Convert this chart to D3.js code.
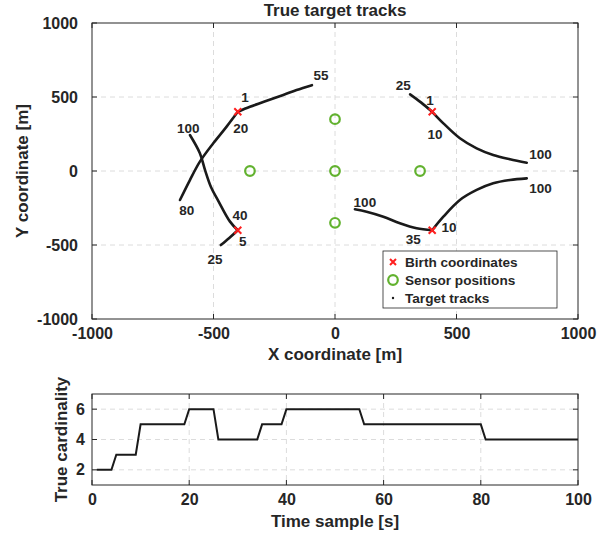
<!DOCTYPE html>
<html>
<head>
<meta charset="utf-8">
<script src="https://cdn.jsdelivr.net/npm/d3@7"></script>
<style>
  body { margin: 0; background: #fff; }
  svg text { font-family: "Liberation Sans", Arial, sans-serif; font-weight: bold; fill: #262626; }
</style>
</head>
<body>
<svg id="fig" width="604" height="535"></svg>
<script>
// ---- data ----
// target tracks, [x, y] in metres, from birth point to end
let trackA = [[-400,400],[-350,434],[-281,475],[-213,514],[-158,547],[-95,580]];      // t 1..55
let trackB = [[-400,400],[-446,300],[-501,187],[-556,63],[-597,-61],[-638,-196]];     // t 20..80
let trackC = [[-400,-400],[-435,-452],[-470,-500]];                                    // t 5..25
let trackD = [[-400,-400],[-432,-342],[-482,-196],[-510,-110],[-535,7],[-556,120],[-597,243]]; // t 40..100
let trackE = [[400,400],[355,462],[309,518]];                                          // t 1..25
let trackF = [[400,400],[446,322],[514,221],[583,153],[651,108],[720,79],[789,56]];    // t 10..100
let trackG = [[400,-400],[446,-309],[514,-196],[583,-128],[651,-83],[720,-61],[789,-50]]; // t 10..100
let trackH = [[400,-400],[336,-387],[267,-353],[199,-309],[130,-275],[82,-259]];       // t 35..100
let tracks = [trackA, trackB, trackC, trackD, trackE, trackF, trackG, trackH];

let births = [[-400,400],[-400,-400],[400,400],[400,-400]];
let sensors = [[-350,0],[0,350],[0,0],[0,-350],[350,0]];

// time-step annotations [label, x, y]
let timeLabels = [
  ["55",-58,649], ["1",-370,498], ["20",-388,289], ["80",-610,-264],
  ["100",-604,289], ["40",-391,-297], ["25",-494,-597], ["5",-380,-478],
  ["25",281,581], ["1",391,475], ["10",412,250], ["100",846,113],
  ["100",846,-117], ["10",469,-380], ["100",123,-214], ["35",322,-459]
];

let posTicks = [-1000, -500, 0, 500, 1000];
let legendItems = ["Birth coordinates", "Sensor positions", "Target tracks"];

// true cardinality, [time, count] at each change
let cardinality = [[1,2],[4,2],[5,3],[9,3],[10,5],[19,5],[20,6],[25,6],[26,4],[34,4],
  [35,5],[39,5],[40,6],[55,6],[56,5],[80,5],[81,4],[100,4]];
let timeTicks = [0, 20, 40, 60, 80, 100];
let cardTicks = [2, 4, 6];

// ---- drawing ----
let svg = d3.select("#fig");
let axisCol = "#262626", gridCol = "#dcdcdc";
let left = 92, right = 578;
let fmt = d => String(d);

function box(g, x0, x1, y0, y1) {
  g.append("rect").attr("x", x0).attr("y", y0)
    .attr("width", x1 - x0).attr("height", y1 - y0)
    .attr("fill", "none").attr("stroke", axisCol).attr("stroke-width", 1);
}

function gridAndTicks(g, xs, ys, xt, yt) {
  let [x0, x1] = xs.range(), [y1, y0] = ys.range();
  xt.forEach(t => {
    let px = xs(t);
    if (px > x0 + 1 && px < x1 - 1)
      g.append("line").attr("x1", px).attr("x2", px).attr("y1", y0).attr("y2", y1)
        .attr("stroke", gridCol).attr("stroke-dasharray", "5,4");
    g.append("line").attr("x1", px).attr("x2", px).attr("y1", y1).attr("y2", y1 - 5).attr("stroke", axisCol);
    g.append("line").attr("x1", px).attr("x2", px).attr("y1", y0).attr("y2", y0 + 5).attr("stroke", axisCol);
  });
  yt.forEach(t => {
    let py = ys(t);
    if (py > y0 + 1 && py < y1 - 1)
      g.append("line").attr("x1", x0).attr("x2", x1).attr("y1", py).attr("y2", py)
        .attr("stroke", gridCol).attr("stroke-dasharray", "5,4");
    g.append("line").attr("x1", x0).attr("x2", x0 + 5).attr("y1", py).attr("y2", py).attr("stroke", axisCol);
    g.append("line").attr("x1", x1).attr("x2", x1 - 5).attr("y1", py).attr("y2", py).attr("stroke", axisCol);
  });
}

// top panel
let top1 = 23, bot1 = 319;
let xScale = d3.scaleLinear().domain([-1000, 1000]).range([left, right]);
let yScale = d3.scaleLinear().domain([-1000, 1000]).range([bot1, top1]);
let g1 = svg.append("g");
gridAndTicks(g1, xScale, yScale, posTicks, posTicks);

let xAxis1 = d3.axisBottom(xScale).tickValues(posTicks).tickFormat(fmt).tickSize(0).tickPadding(9);
g1.append("g").attr("transform", "translate(0," + bot1 + ")").call(xAxis1)
  .call(a => a.select(".domain").remove())
  .selectAll("text").style("font-size", "16px").attr("fill", axisCol);
let yAxis1 = d3.axisLeft(yScale).tickValues(posTicks).tickFormat(fmt).tickSize(0).tickPadding(14);
g1.append("g").attr("transform", "translate(" + left + ",0)").call(yAxis1)
  .call(a => a.select(".domain").remove())
  .selectAll("text").style("font-size", "16px").attr("fill", axisCol);

let line = d3.line().x(d => xScale(d[0])).y(d => yScale(d[1])).curve(d3.curveCatmullRom);
g1.selectAll(".track").data(tracks).enter().append("path")
  .attr("d", line).attr("fill", "none").attr("stroke", "#1a1a1a")
  .attr("stroke-width", 2.6).attr("stroke-linecap", "round");

g1.selectAll(".birth").data(births).enter().append("path")
  .attr("transform", d => "translate(" + xScale(d[0]) + "," + yScale(d[1]) + ")")
  .attr("d", "M-3.5,-3.5L3.5,3.5M-3.5,3.5L3.5,-3.5")
  .attr("stroke", "#ff1f1f").attr("stroke-width", 2);

g1.selectAll(".sensor").data(sensors).enter().append("circle")
  .attr("cx", d => xScale(d[0])).attr("cy", d => yScale(d[1])).attr("r", 4.8)
  .attr("fill", "none").attr("stroke", "#62b22f").attr("stroke-width", 2.2);

g1.selectAll(".tlab").data(timeLabels).enter().append("text")
  .attr("x", d => xScale(d[1])).attr("y", d => yScale(d[2]))
  .attr("text-anchor", "middle").attr("dy", "0.35em")
  .style("font-size", "13.5px").text(d => d[0]);

box(g1, left, right, top1, bot1);

// legend
let lg = svg.append("g").attr("transform", "translate(383,251)");
lg.append("rect").attr("width", 174).attr("height", 57)
  .attr("fill", "#fff").attr("stroke", axisCol).attr("stroke-width", 0.8);
legendItems.forEach((s, i) => {
  lg.append("text").attr("x", 22).attr("y", 11 + i * 18).attr("dy", "0.35em")
    .style("font-size", "13.6px").text(s);
});
lg.append("path").attr("d", "M7,8L13,14M7,14L13,8").attr("stroke", "#ff1f1f").attr("stroke-width", 2);
lg.append("circle").attr("cx", 10).attr("cy", 29).attr("r", 4.8)
  .attr("fill", "none").attr("stroke", "#62b22f").attr("stroke-width", 2.2);
lg.append("circle").attr("cx", 10).attr("cy", 47).attr("r", 1.2).attr("fill", "#1a1a1a");

svg.append("text").attr("x", (left + right) / 2).attr("y", 16).attr("text-anchor", "middle")
  .style("font-size", "17px").text("True target tracks");
svg.append("text").attr("x", (left + right) / 2).attr("y", 360).attr("text-anchor", "middle")
  .style("font-size", "17px").text("X coordinate [m]");
svg.append("text").attr("transform", "translate(28," + (top1 + bot1) / 2 + ") rotate(-90)")
  .attr("text-anchor", "middle").style("font-size", "17px").text("Y coordinate [m]");

// bottom panel
let top2 = 394, bot2 = 485;
let tScale = d3.scaleLinear().domain([0, 100]).range([left, right]);
let cScale = d3.scaleLinear().domain([1, 7]).range([bot2, top2]);
let g2 = svg.append("g");
gridAndTicks(g2, tScale, cScale, timeTicks, cardTicks);

let xAxis2 = d3.axisBottom(tScale).tickValues(timeTicks).tickFormat(fmt).tickSize(0).tickPadding(9);
g2.append("g").attr("transform", "translate(0," + bot2 + ")").call(xAxis2)
  .call(a => a.select(".domain").remove())
  .selectAll("text").style("font-size", "16px").attr("fill", axisCol);
let yAxis2 = d3.axisLeft(cScale).tickValues(cardTicks).tickFormat(fmt).tickSize(0).tickPadding(7);
g2.append("g").attr("transform", "translate(" + left + ",0)").call(yAxis2)
  .call(a => a.select(".domain").remove())
  .selectAll("text").style("font-size", "16px").attr("fill", axisCol);

let cLine = d3.line().x(d => tScale(d[0])).y(d => cScale(d[1]));
g2.append("path").datum(cardinality).attr("d", cLine)
  .attr("fill", "none").attr("stroke", "#1a1a1a").attr("stroke-width", 2);

box(g2, left, right, top2, bot2);

svg.append("text").attr("x", (left + right) / 2).attr("y", 527).attr("text-anchor", "middle")
  .style("font-size", "17px").text("Time sample [s]");
svg.append("text").attr("transform", "translate(67," + (top2 + bot2) / 2 + ") rotate(-90)")
  .attr("text-anchor", "middle").style("font-size", "17px").text("True cardinality");
</script>
</body>
</html>
